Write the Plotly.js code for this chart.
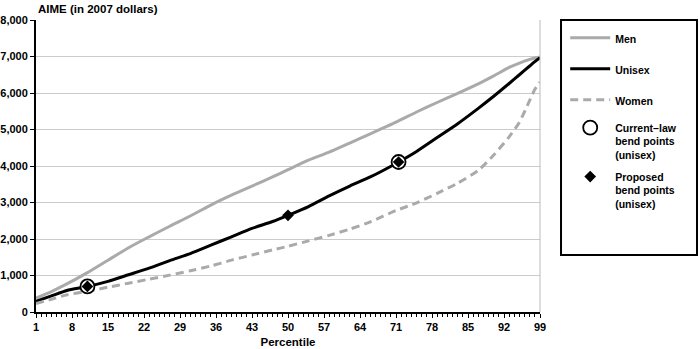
<!DOCTYPE html>
<html>
<head>
<meta charset="utf-8">
<script src="https://cdn.plot.ly/plotly-3.0.1.min.js"></script>
<style>
html,body{margin:0;padding:0;background:#fff;}
#chart{width:700px;height:349px;}
</style>
</head>
<body>
<div id="chart"></div>
<script>
// Percentiles at which values were read
const percentiles = [1, 4, 7, 11, 15, 19, 23, 27, 31, 35, 39, 43, 47, 50, 54, 58, 62, 66, 71, 75, 79, 83, 87, 90, 93, 95, 97, 98, 99];
// AIME (2007 dollars)
const men     = [380, 560, 770, 1080, 1420, 1760, 2060, 2350, 2630, 2930, 3200, 3450, 3700, 3900, 4160, 4380, 4630, 4880, 5200, 5480, 5740, 5990, 6250, 6470, 6700, 6820, 6920, 6960, 6990];
const unisex  = [290, 440, 590, 700, 840, 1020, 1200, 1410, 1600, 1830, 2060, 2290, 2480, 2650, 2890, 3180, 3450, 3700, 4070, 4400, 4780, 5160, 5580, 5910, 6260, 6500, 6740, 6860, 6970];
const women   = [230, 350, 470, 565, 680, 790, 900, 1010, 1130, 1260, 1420, 1560, 1700, 1800, 1950, 2100, 2270, 2470, 2780, 2990, 3250, 3530, 3880, 4300, 4800, 5200, 5800, 6100, 6300];
// Bend points (unisex)
const currentLawPct = [11, 71.5];
const currentLawVal = [700, 4110];
const proposedPct = [11, 50, 71.5];
const proposedVal = [700, 2650, 4110];
// Axis ticks
const xTicks = [1, 8, 15, 22, 29, 36, 43, 50, 57, 64, 71, 78, 85, 92, 99];
const yTicks = [0, 1000, 2000, 3000, 4000, 5000, 6000, 7000, 8000];

const FONT = 'Liberation Sans, Arial, Helvetica, sans-serif';
const GRAY = '#aaaaaa';

const traces = [
  {x: percentiles, y: men, name: 'Men', mode: 'lines', legendgroup: 'g1',
   line: {color: GRAY, width: 3, shape: 'spline', smoothing: 0.6}},
  {x: percentiles, y: unisex, name: 'Unisex', mode: 'lines', legendgroup: 'g2',
   line: {color: '#000000', width: 3, shape: 'spline', smoothing: 0.6}},
  {x: percentiles, y: women, name: 'Women', mode: 'lines', legendgroup: 'g3',
   line: {color: GRAY, width: 3, dash: '8px,5px', shape: 'spline', smoothing: 0.6}},
  {x: currentLawPct, y: currentLawVal, name: 'Current–law<br>bend points<br>(unisex)', mode: 'markers', legendgroup: 'g4', legend: 'legend2',
   marker: {symbol: 'circle', size: 14, color: '#ffffff', line: {color: '#000000', width: 1.8}}},
  {x: proposedPct, y: proposedVal, name: 'Proposed<br>bend points<br>(unisex)', mode: 'markers', legendgroup: 'g5', legend: 'legend2',
   marker: {symbol: 'diamond', size: 9, color: '#000000', line: {width: 0}}}
];

const legendFont = {family: FONT, size: 10.5, color: '#000', weight: 'bold'};

const layout = {
  width: 700, height: 349,
  margin: {l: 36, r: 160, t: 20, b: 37},
  paper_bgcolor: '#ffffff', plot_bgcolor: '#ffffff',
  font: {family: FONT, size: 11, color: '#000000', weight: 'bold'},
  showlegend: true,
  legend: {
    x: 1.05, y: 0.985, xanchor: 'left', yanchor: 'top',
    bgcolor: 'rgba(0,0,0,0)', borderwidth: 0,
    font: legendFont, tracegroupgap: 12, valign: 'top', itemwidth: 40
  },
  legend2: {
    x: 1.05, y: 0.677, xanchor: 'left', yanchor: 'top',
    bgcolor: 'rgba(0,0,0,0)', borderwidth: 0,
    font: legendFont, tracegroupgap: 5, valign: 'top', itemwidth: 40
  },
  xaxis: {
    range: [1, 99], tickvals: xTicks, ticktext: xTicks.map(String),
    showgrid: false, zeroline: false,
    showline: true, linecolor: '#000', linewidth: 2,
    ticks: 'outside', ticklen: 4, tickwidth: 1, tickcolor: '#000',
    minor: {dtick: 1, tick0: 1, ticks: 'outside', ticklen: 3, tickwidth: 1, tickcolor: '#000', showgrid: false},
    tickfont: {family: FONT, size: 11, weight: 'bold'},
    title: {text: 'Percentile', font: {family: FONT, size: 11.5, weight: 'bold'}, standoff: 6},
    fixedrange: true
  },
  yaxis: {
    range: [0, 8000], tickvals: yTicks, tickformat: ',d',
    showgrid: true, gridcolor: '#cccccc', gridwidth: 1,
    zeroline: false,
    showline: true, linecolor: '#000', linewidth: 2,
    ticks: 'outside', ticklen: 4, tickwidth: 1, tickcolor: '#000',
    tickfont: {family: FONT, size: 11, weight: 'bold'},
    fixedrange: true
  },
  shapes: [
    {type: 'line', xref: 'paper', yref: 'paper', x0: 1, x1: 1, y0: 0, y1: 1,
     line: {color: '#bbbbbb', width: 1}},
    {type: 'rect', xref: 'paper', yref: 'paper', x0: 1.0417, x1: 1.3115, y0: 0.195, y1: 1.0,
     line: {color: '#000000', width: 2}, fillcolor: 'rgba(0,0,0,0)'}
  ],
  annotations: [
    {text: 'AIME (in 2007 dollars)', xref: 'paper', yref: 'paper', x: 0, y: 1,
     xanchor: 'left', yanchor: 'bottom', yshift: 3, showarrow: false,
     font: {family: FONT, size: 11.5, weight: 'bold', color: '#000'}}
  ]
};

Plotly.newPlot('chart', traces, layout, {displayModeBar: false, staticPlot: true});
</script>
</body>
</html>
